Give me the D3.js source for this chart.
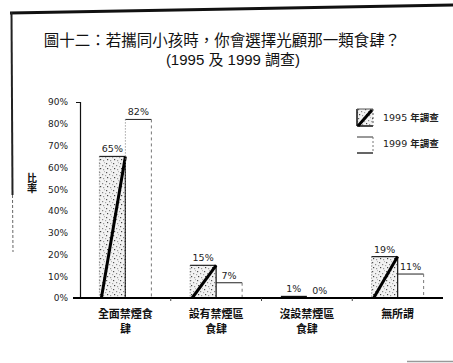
<!DOCTYPE html>
<html>
<head>
<meta charset="utf-8">
<script src="https://cdn.jsdelivr.net/npm/d3@7"></script>
<style>
  html, body { margin: 0; padding: 0; background: #fff; }
  svg { display: block; }
</style>
</head>
<body>
<script>
// Survey results: choice of restaurant type when dining with children
const categories = ["全面禁煙食肆", "設有禁煙區食肆", "沒設禁煙區食肆", "無所謂"];
const categoryLines = [["全面禁煙食", "肆"], ["設有禁煙區", "食肆"], ["沒設禁煙區", "食肆"], ["無所謂"]];
const years = ["1995 年調查", "1999 年調查"];
const values1995 = [65, 15, 1, 19];
const values1999 = [82, 7, 0, 11];
const yTicks = [0, 10, 20, 30, 40, 50, 60, 70, 80, 90];
const titleLines = ["圖十二：若攜同小孩時，你會選擇光顧那一類食肆？", "(1995 及 1999 調查)"];
const yLabel = "比率";

const W = 453, H = 363;
const cjk = "'Noto Sans CJK TC', 'Noto Sans CJK SC', sans-serif";
const num = "'DejaVu Sans', sans-serif";

const svg = d3.select("body").append("svg").attr("width", W).attr("height", H);

// speckled fill used for the 1995 bars
const defs = svg.append("defs");
const pat = defs.append("pattern").attr("id", "speckle")
  .attr("patternUnits", "userSpaceOnUse").attr("width", 7).attr("height", 9);
pat.append("rect").attr("width", 7).attr("height", 9).attr("fill", "#f2f2f2");
[[1, 1, "#555"], [4, 3, "#888"], [2, 6, "#444"], [5, 7, "#999"], [6, 0, "#bbb"], [0, 4, "#aaa"]]
  .forEach(([px, py, c]) => pat.append("rect").attr("x", px).attr("y", py)
    .attr("width", 1.2).attr("height", 1.2).attr("fill", c));

// frame edges of the page
svg.append("line").attr("x1", 10).attr("y1", 13).attr("x2", W).attr("y2", 5)
  .attr("stroke", "#111").attr("stroke-width", 3);
svg.append("line").attr("x1", 11.5).attr("y1", 12).attr("x2", 12.5).attr("y2", 195)
  .attr("stroke", "#222").attr("stroke-width", 2);
svg.append("line").attr("x1", 12.5).attr("y1", 195).attr("x2", 13).attr("y2", 252)
  .attr("stroke", "#666").attr("stroke-width", 1).attr("stroke-dasharray", "3,2");
svg.append("line").attr("x1", 407).attr("y1", 361.5).attr("x2", W).attr("y2", 361.5)
  .attr("stroke", "#999").attr("stroke-width", 1.5);

// title
const title = svg.append("g").attr("font-family", cjk).attr("fill", "#111").attr("text-anchor", "middle");
title.append("text").attr("x", 222).attr("y", 46).attr("font-size", 15.5).text(titleLines[0]);
title.append("text").attr("x", 233).attr("y", 65).attr("font-size", 15)
  .attr("font-family", "'Liberation Sans', " + cjk).text(titleLines[1]);

// scales
const y = d3.scaleLinear().domain([0, 90]).range([298, 102]);
const x0 = d3.scaleBand().domain(categories).range([80, 443]).padding(0);
const pairW = 52;
const x1 = d3.scaleBand().domain(years).range([0, pairW]).padding(0);
const bw = x1.bandwidth();
const left = c => x0(c) + (x0.bandwidth() - pairW) / 2;

// y axis
const yAxis = d3.axisLeft(y).tickValues(yTicks).tickFormat(d => d + "%")
  .tickSize(0).tickSizeOuter(4).tickPadding(12);
const ya = svg.append("g").attr("transform", "translate(80,0)").call(yAxis);
ya.select(".domain").attr("stroke", "#111").attr("stroke-width", 1.2);
ya.selectAll("text").attr("font-family", num).attr("font-size", 9).attr("fill", "#222");

// y axis label, set vertically
svg.append("text")
  .attr("x", 32).attr("y", 173)
  .style("writing-mode", "vertical-rl").style("text-orientation", "upright")
  .attr("font-family", cjk).attr("font-size", 10).attr("font-weight", "bold")
  .attr("fill", "#111").text(yLabel);

// bars
const g = svg.append("g");
categories.forEach((c, i) => {
  const xa = left(c) + x1(years[0]);
  const xb = left(c) + x1(years[1]);
  const v5 = values1995[i], v9 = values1999[i];
  const ya5 = y(v5), ya9 = y(v9), y0 = y(0);

  // 1995: speckled bar with diagonal stroke
  if (v5 > 0) {
    if (y0 - ya5 > 4) {
      g.append("rect").attr("x", xa).attr("y", ya5).attr("width", bw).attr("height", y0 - ya5)
        .attr("fill", "url(#speckle)");
      g.append("line").attr("x1", xa).attr("y1", ya5).attr("x2", xa).attr("y2", y0)
        .attr("stroke", "#777").attr("stroke-width", 1).attr("stroke-dasharray", "1,2");
      g.append("line").attr("x1", xa).attr("y1", ya5).attr("x2", xa + bw).attr("y2", ya5)
        .attr("stroke", "#222").attr("stroke-width", 1.2);
      g.append("line").attr("x1", xa + bw).attr("y1", ya5).attr("x2", xa + bw).attr("y2", y0)
        .attr("stroke", "#222").attr("stroke-width", 1.3);
      g.append("line").attr("x1", xa + 2).attr("y1", y0).attr("x2", xa + bw).attr("y2", ya5)
        .attr("stroke", "#000").attr("stroke-width", 3);
    } else {
      g.append("rect").attr("x", xa).attr("y", ya5).attr("width", bw).attr("height", y0 - ya5)
        .attr("fill", "#111");
    }
  }
  // 1999: open bar, solid top and dashed right side
  if (v9 > 0) {
    g.append("line").attr("x1", xb).attr("y1", ya9).attr("x2", xb + bw).attr("y2", ya9)
      .attr("stroke", "#222").attr("stroke-width", 1);
    g.append("line").attr("x1", xb + bw).attr("y1", ya9).attr("x2", xb + bw).attr("y2", y0)
      .attr("stroke", "#777").attr("stroke-width", 1).attr("stroke-dasharray", "3,3");
    if (!(v5 > v9)) {
      g.append("line").attr("x1", xb).attr("y1", ya9).attr("x2", xb).attr("y2", y0)
        .attr("stroke", "#777").attr("stroke-width", 1).attr("stroke-dasharray", "1,2");
    }
  }
  // value labels
  g.append("text").attr("x", xa + bw / 2).attr("y", ya5 - 4).attr("text-anchor", "middle")
    .attr("font-family", num).attr("font-size", 9.5).attr("fill", "#222").text(v5 + "%");
  g.append("text").attr("x", xb + bw / 2).attr("y", ya9 - 4).attr("text-anchor", "middle")
    .attr("font-family", num).attr("font-size", 9.5).attr("fill", "#222").text(v9 + "%");
});

// x axis baseline with small ticks between categories
const xa = svg.append("g");
xa.append("line").attr("x1", 73).attr("y1", y(0)).attr("x2", 443).attr("y2", y(0))
  .attr("stroke", "#000").attr("stroke-width", 2);
categories.slice(1).forEach(c => {
  xa.append("line").attr("x1", x0(c)).attr("y1", y(0)).attr("x2", x0(c)).attr("y2", y(0) + 3)
    .attr("stroke", "#444").attr("stroke-width", 1);
});

// category labels
categories.forEach((c, i) => {
  const cx = x0(c) + x0.bandwidth() / 2;
  categoryLines[i].forEach((ln, j) => {
    svg.append("text").attr("x", cx).attr("y", 318 + j * 15).attr("text-anchor", "middle")
      .attr("font-family", cjk).attr("font-size", 11).attr("font-weight", "bold")
      .attr("fill", "#111").text(ln);
  });
});

// legend
const lg = svg.append("g");
// 1995 swatch
lg.append("rect").attr("x", 357).attr("y", 109).attr("width", 16).attr("height", 17).attr("fill", "url(#speckle)");
lg.append("line").attr("x1", 357).attr("y1", 109).attr("x2", 357).attr("y2", 126).attr("stroke", "#111").attr("stroke-width", 1.5);
lg.append("line").attr("x1", 357).attr("y1", 126).attr("x2", 373).attr("y2", 126).attr("stroke", "#111").attr("stroke-width", 1.5);
lg.append("line").attr("x1", 357).attr("y1", 109).attr("x2", 373).attr("y2", 109).attr("stroke", "#555").attr("stroke-width", 1);
lg.append("line").attr("x1", 373).attr("y1", 109).attr("x2", 373).attr("y2", 126).attr("stroke", "#555").attr("stroke-width", 1).attr("stroke-dasharray", "2,2");
lg.append("line").attr("x1", 358).attr("y1", 126).attr("x2", 372).attr("y2", 110).attr("stroke", "#000").attr("stroke-width", 3);
// 1999 swatch
lg.append("line").attr("x1", 357).attr("y1", 137).attr("x2", 373).attr("y2", 137).attr("stroke", "#333").attr("stroke-width", 1);
lg.append("line").attr("x1", 357).attr("y1", 153).attr("x2", 373).attr("y2", 153).attr("stroke", "#111").attr("stroke-width", 1.3);
lg.append("line").attr("x1", 373).attr("y1", 137).attr("x2", 373).attr("y2", 153).attr("stroke", "#777").attr("stroke-width", 1).attr("stroke-dasharray", "2,2");
lg.selectAll("text.lbl").data(years).join("text").attr("class", "lbl")
  .attr("x", 383).attr("y", (d, i) => 121 + i * 26)
  .attr("font-family", num).attr("font-size", 9.5).attr("fill", "#222")
  .each(function (d) {
    const parts = d.split(" ");
    d3.select(this).append("tspan").text(parts[0] + " ");
    d3.select(this).append("tspan").attr("font-family", cjk).attr("font-weight", "bold").text(parts[1]);
  });
</script>
</body>
</html>
